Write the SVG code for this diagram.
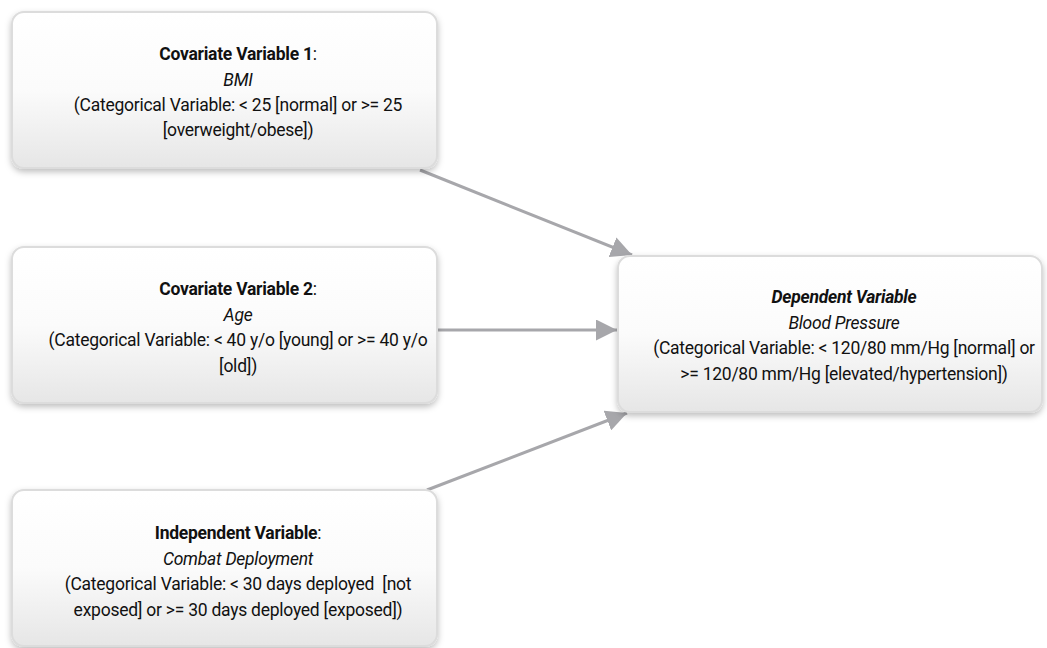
<svg xmlns="http://www.w3.org/2000/svg" width="1047" height="648" viewBox="0 0 1047 648">
  <style>
    .box { fill: url(#g); stroke: #dcdcdc; stroke-width: 2; filter: url(#sh); }
    text { font-family: Roboto, "Liberation Sans", sans-serif; font-size: 17.5px; fill: #111111; text-anchor: middle; letter-spacing: -0.25px; }
    .b { font-weight: bold; }
    .i { font-style: italic; }
    .conn { stroke: #a7a7ab; stroke-width: 3; fill: none; marker-end: url(#ah); }
  </style>
  <defs>
    <linearGradient id="g" x1="0" y1="0" x2="0" y2="1">
      <stop offset="0" stop-color="#ffffff"/>
      <stop offset="0.5" stop-color="#fbfbfb"/>
      <stop offset="1" stop-color="#e6e6e6"/>
    </linearGradient>
    <filter id="sh" x="-10%" y="-10%" width="120%" height="130%">
      <feDropShadow dx="0" dy="3" stdDeviation="3" flood-color="#000" flood-opacity="0.25"/>
    </filter>
    <marker id="ah" markerWidth="7" markerHeight="7" refX="7" refY="3.5" orient="auto" markerUnits="strokeWidth">
      <path d="M0,0 L7,3.5 L0,7 Z" fill="#a7a7ab"/>
    </marker>
  </defs>
  <rect width="1047" height="648" fill="#ffffff"/>
  <g id="connectors">
    <line class="conn" x1="420" y1="170" x2="632" y2="255"/>
    <line class="conn" x1="437" y1="330" x2="617" y2="330"/>
    <line class="conn" x1="427" y1="490" x2="627" y2="413"/>
  </g>
  <g id="cov1">
    <rect class="box" x="12" y="12" width="425" height="156" rx="12"/>
    <text x="238" y="60"><tspan class="b">Covariate Variable 1</tspan>:</text>
    <text x="238" y="85.5" class="i">BMI</text>
    <text x="238" y="110.5">(Categorical Variable: &lt; 25 [normal] or &gt;= 25</text>
    <text x="238" y="135.5">[overweight/obese])</text>
  </g>
  <g id="cov2">
    <rect class="box" x="12" y="247" width="425" height="156" rx="12"/>
    <text x="238" y="295"><tspan class="b">Covariate Variable 2</tspan>:</text>
    <text x="238" y="320.5" class="i">Age</text>
    <text x="238" y="346">(Categorical Variable: &lt; 40 y/o [young] or &gt;= 40 y/o</text>
    <text x="238" y="371.5">[old])</text>
  </g>
  <g id="indep">
    <rect class="box" x="12" y="490" width="425" height="156" rx="12"/>
    <text x="238" y="539"><tspan class="b">Independent Variable</tspan>:</text>
    <text x="238" y="564.5" class="i">Combat Deployment</text>
    <text x="238" y="590" xml:space="preserve">(Categorical Variable: &lt; 30 days deployed  [not</text>
    <text x="238" y="615.5">exposed] or &gt;= 30 days deployed [exposed])</text>
  </g>
  <g id="dep">
    <rect class="box" x="618" y="256" width="424" height="156" rx="12"/>
    <text x="844" y="303" class="b i">Dependent Variable</text>
    <text x="844" y="328.5" class="i">Blood Pressure</text>
    <text x="844" y="354">(Categorical Variable: &lt; 120/80 mm/Hg [normal] or</text>
    <text x="844" y="379.5">&gt;= 120/80 mm/Hg [elevated/hypertension])</text>
  </g>
</svg>
